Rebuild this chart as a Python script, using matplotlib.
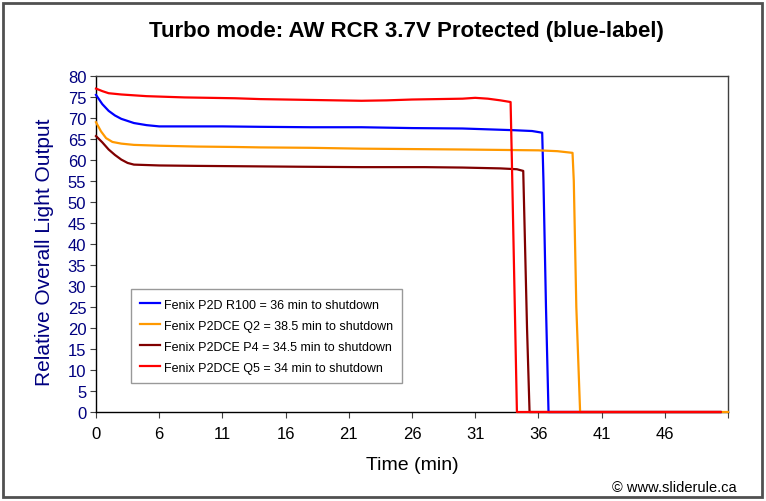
import matplotlib
matplotlib.use("Agg")
import matplotlib.pyplot as plt
from matplotlib.patches import Rectangle

plt.rcParams['font.family'] = ['Liberation Sans', 'DejaVu Sans']

# x is the position along the (category-style) time axis, y is relative light output
blue_x = [0, 0.5, 1, 1.5, 2, 3, 4, 5, 7, 10, 13, 17, 21, 25, 29, 31, 33, 34.5, 35.3, 35.4, 35.6, 35.8, 49.4]
blue_y = [75.5, 73.3, 71.7, 70.6, 69.8, 68.8, 68.3, 68.0, 68.0, 68.0, 67.9, 67.8, 67.8, 67.6, 67.5, 67.3, 67.1, 66.9, 66.5, 55, 25, 0, 0]

orange_x = [0, 0.4, 0.8, 1.3, 2, 3, 5, 8, 11, 13, 17, 21, 25, 29, 32, 35, 36.5, 37.7, 37.8, 38.0, 38.3, 50]
orange_y = [69.0, 66.8, 65.2, 64.3, 63.9, 63.6, 63.4, 63.2, 63.1, 63.0, 62.9, 62.7, 62.6, 62.5, 62.4, 62.3, 62.1, 61.7, 55, 25, 0, 0]

maroon_x = [0, 0.5, 1, 1.5, 2, 2.5, 3, 5, 8, 12, 16, 21, 26, 29, 32, 33.3, 33.8, 33.9, 34.1, 34.3, 49.4]
maroon_y = [65.7, 64.2, 62.5, 61.2, 60.1, 59.3, 58.9, 58.7, 58.6, 58.5, 58.4, 58.3, 58.3, 58.2, 58.0, 57.8, 57.4, 45, 20, 0, 0]

red_x = [0, 0.5, 1, 2, 3, 4, 5, 7, 9, 11, 13, 15, 17, 19, 21, 23, 25, 27, 29, 30, 31, 32, 32.8, 32.9, 33.1, 33.3, 49.4]
red_y = [77.0, 76.4, 75.9, 75.6, 75.4, 75.2, 75.1, 74.9, 74.8, 74.7, 74.5, 74.4, 74.3, 74.2, 74.1, 74.2, 74.4, 74.5, 74.6, 74.8, 74.6, 74.2, 73.8, 60, 30, 0, 0]

labels = ["Fenix P2D R100 = 36 min to shutdown",
          "Fenix P2DCE Q2 = 38.5 min to shutdown",
          "Fenix P2DCE P4 = 34.5 min to shutdown",
          "Fenix P2DCE Q5 = 34 min to shutdown"]
colors = ["#0000FF", "#FF9900", "#800000", "#FF0000"]

x_tick_pos = [0, 5, 10, 15, 20, 25, 30, 35, 40, 45, 50]
x_tick_labels = ["0", "6", "11", "16", "21", "26", "31", "36", "41", "46", ""]
y_ticks = list(range(0, 81, 5))

fig = plt.figure(figsize=(7.66, 5.02), dpi=100)
ax = fig.add_axes([96/766, 89/502, 632/766, 336/502])

series = [(blue_x, blue_y), (orange_x, orange_y), (maroon_x, maroon_y), (red_x, red_y)]
for (xs, ys), c, lab in zip(series, colors, labels):
    ax.plot(xs, ys, color=c, lw=1.6, label=lab, clip_on=False, zorder=3)

ax.set_xlim(0, 50)
ax.set_ylim(0, 80)
ax.set_xticks(x_tick_pos)
ax.set_xticklabels(x_tick_labels)
ax.set_yticks(y_ticks)
ax.tick_params(axis='y', colors='#000080', labelsize=12, length=4, pad=3)
ax.tick_params(axis='x', labelcolor='black', labelsize=12, length=4, pad=6, color='#404040')
ax.tick_params(axis='y', color='#404040')
for s in ax.spines.values():
    s.set_color('black')
    s.set_linewidth(1.0)
for s in ('top', 'right'):
    ax.spines[s].set_color('#404040')

leg = ax.legend(loc='lower left', bbox_to_anchor=(0.0554, 0.0863), borderaxespad=0,
                fontsize=9, frameon=True, fancybox=False, handlelength=1.6,
                handletextpad=0.25, labelspacing=0.72, borderpad=0.75)
leg.get_frame().set_edgecolor('#808080')
leg.get_frame().set_linewidth(1.0)

fig.text(406/766, 1 - 32/502, "Turbo mode: AW RCR 3.7V Protected (blue-label)",
         ha='center', va='center', fontsize=16, fontweight='bold')
fig.text(45/766, 1 - 252/502, "Relative Overall Light Output", rotation=90,
         ha='center', va='center', fontsize=15, color='#000080')
fig.text(412/766, 1 - 466/502, "Time (min)", ha='center', va='center', fontsize=14)
fig.text(737/766, 1 - 488/502, "© www.sliderule.ca", ha='right', va='center', fontsize=10.5)

fig.patches.append(Rectangle((3/766, 4/502), 759/766, 494/502, transform=fig.transFigure,
                             fill=False, edgecolor='#505050', lw=2))

fig.savefig("out.png", dpi=100)
